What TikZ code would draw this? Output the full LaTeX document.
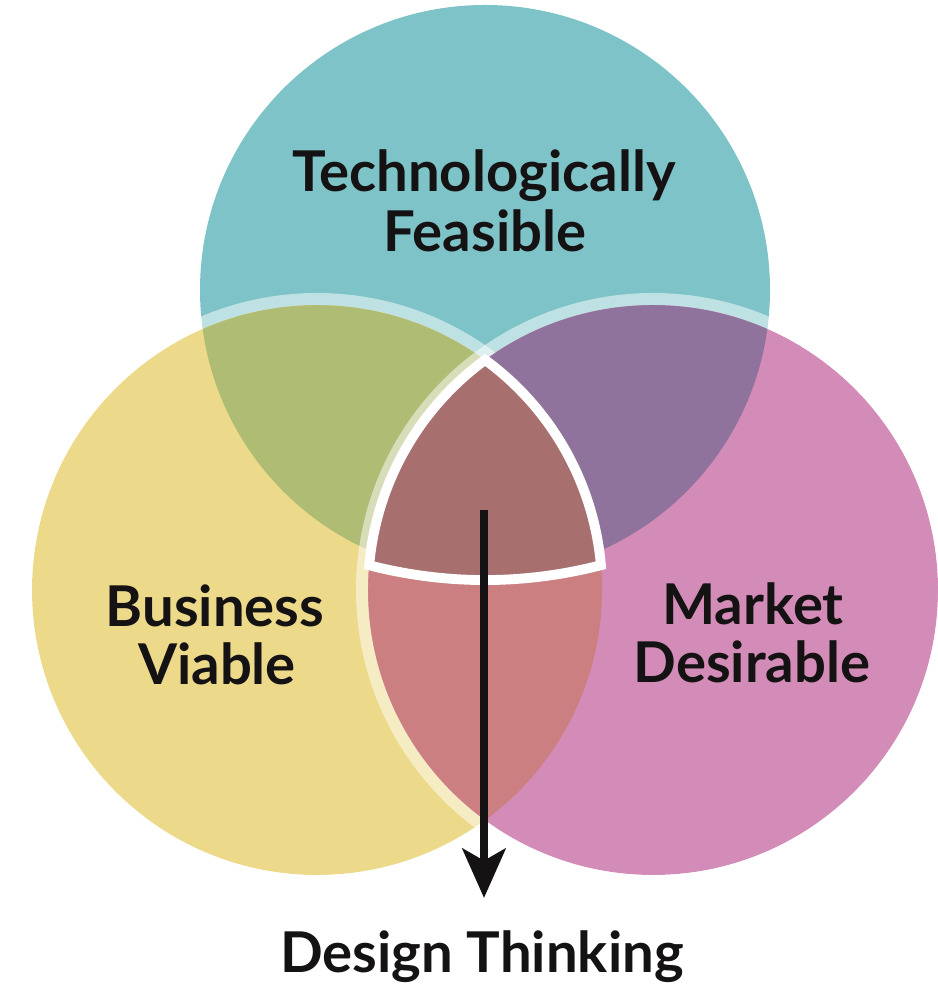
\documentclass[tikz,border=0pt]{standalone}
\usepackage{fontspec}
\setmainfont{Lato}
\usetikzlibrary{arrows.meta}
\definecolor{tealc}{HTML}{7DC3C7}
\definecolor{yelc}{HTML}{EDD98A}
\definecolor{pinkc}{HTML}{D38CB7}
\definecolor{greenc}{HTML}{AFBC73}
\definecolor{purplec}{HTML}{8F739D}
\definecolor{lensc}{HTML}{CC7F80}
\definecolor{centerc}{HTML}{A86F6F}
\definecolor{inkc}{HTML}{141213}
\begin{document}
\begin{tikzpicture}[x=0.025cm,y=0.025cm,
  ring/.style={draw=white, draw opacity=0.5, line width=8.5pt},
  lbl/.style={font=\fontsize{40}{42}\selectfont\bfseries, text=inkc, inner sep=0pt, anchor=base},
  corestyle/.style={fill=centerc, draw=white, line width=7pt},
  arrowline/.style={draw=inkc, line width=6.3pt, -{Stealth[length=35pt, width=30.5pt, inset=8.5pt]}}]
\useasboundingbox (0,0) rectangle (938,993);
\def\R{285}
\coordinate (T) at (485,703);
\coordinate (Y) at (317,403);
\coordinate (P) at (653,403);
% circles
\fill[tealc] (T) circle[radius=\R];
\fill[yelc] (Y) circle[radius=\R];
\fill[pinkc] (P) circle[radius=\R];
% overlaps
\begin{scope}
  \clip (T) circle[radius=\R];
  \fill[greenc] (Y) circle[radius=\R];
  \fill[purplec] (P) circle[radius=\R];
\end{scope}
\begin{scope}
  \clip (Y) circle[radius=\R];
  \fill[lensc] (P) circle[radius=\R];
\end{scope}
% light rings
\begin{scope}[even odd rule]
  \clip (0,0) rectangle (938,993) (P) circle[radius=\R];
  \draw[ring] (Y) circle[radius=\R+6];
\end{scope}
\draw[ring] (P) circle[radius=\R+6];
% core (intersection of all three)
\draw[corestyle] (485,633) arc[start angle=126.15, end angle=175, radius=\R]
  .. controls (446,408) and (524,408) .. (600.9,427.8)
  arc[start angle=5, end angle=53.85, radius=\R] -- cycle;
% labels
\node[lbl] (tech1) at (484,801) {Technologically};
\node[lbl] (tech2) at (485,741) {Feasible};
\node[lbl] (bus1) at (215,366) {Business};
\node[lbl] (bus2) at (217,308) {Viable};
\node[lbl] (mkt1) at (753,368) {Market};
\node[lbl] (mkt2) at (752,310) {Desirable};
\node[lbl] (dt) at (482,20) {Design Thinking};
% arrow
\coordinate (arrowtop) at (484,483);
\coordinate (arrowtip) at (484,95);
\draw[arrowline] (arrowtop) -- (arrowtip);
\end{tikzpicture}
\end{document}
